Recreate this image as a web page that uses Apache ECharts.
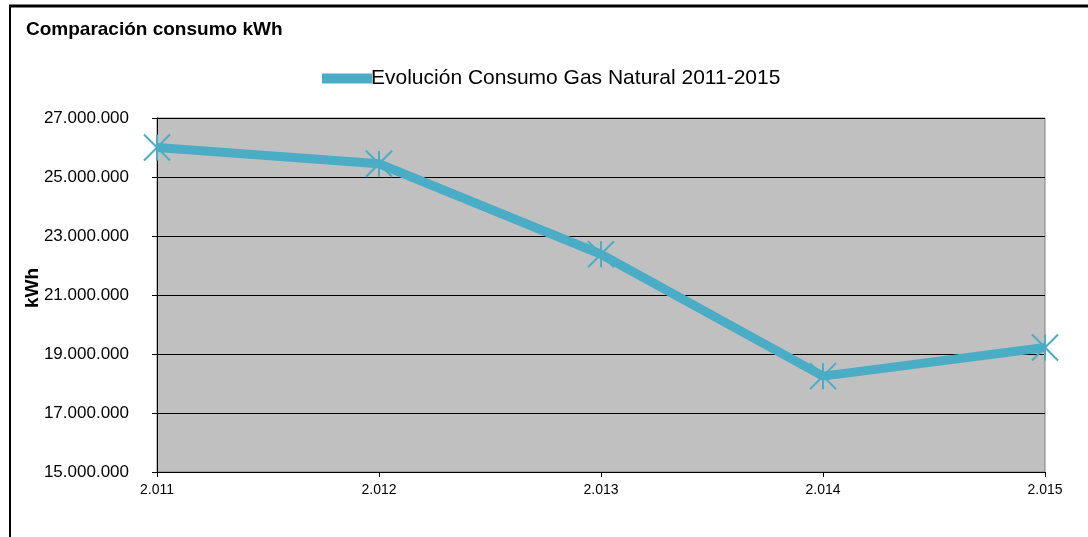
<!DOCTYPE html>
<html>
<head>
<meta charset="utf-8">
<script src="https://cdn.jsdelivr.net/npm/echarts@6/dist/echarts.min.js"></script>
<style>
  html, body { margin: 0; padding: 0; background: #fff; }
  #chart { width: 1088px; height: 537px; }
</style>
</head>
<body>
<div id="chart"></div>
<script>
// años (etiquetas del eje x)
var years = ['2.011', '2.012', '2.013', '2.014', '2.015'];
// consumo de gas natural en kWh
var consumo = [26000000, 25450000, 22380000, 18250000, 19220000];
var serieName = 'Evolución Consumo Gas Natural 2011-2015';
var yName = 'kWh';

var myChart = echarts.init(document.getElementById('chart'));

function fmtMiles(v) {
	return String(v).replace(/\B(?=(\d{3})+(?!\d))/g, '.');
}

var option = {
	animation: false,
	textStyle: { fontFamily: 'Liberation Sans, Arial, sans-serif' },
	title: {
		text: 'Comparación consumo kWh',
		left: 21,
		top: 15,
		textStyle: { fontSize: 19, fontWeight: 'bold', color: '#000' }
	},
	legend: {
		top: 63,
		left: 317,
		itemWidth: 48,
		itemHeight: 14,
		itemGap: 0,
		textStyle: { fontSize: 21, color: '#000', padding: [0, 0, 0, -5] },
		data: [{ name: serieName, icon: 'path://M0,3 L48,3 L48,11 L0,11 Z' }]
	},
	grid: {
		left: 157,
		top: 118,
		right: 43,
		bottom: 65,
		show: true,
		backgroundColor: '#c0c0c0',
		borderColor: '#808080',
		borderWidth: 1
	},
	xAxis: {
		type: 'category',
		data: years,
		boundaryGap: false,
		axisLine: { show: true, lineStyle: { color: '#000', width: 1 } },
		axisTick: { show: true, inside: false, length: 5, lineStyle: { color: '#000' } },
		axisLabel: { color: '#000', fontSize: 14, margin: 11 },
		splitLine: { show: false }
	},
	yAxis: {
		type: 'value',
		min: 15000000,
		max: 27000000,
		interval: 2000000,
		axisLine: { show: true, lineStyle: { color: '#000', width: 1 } },
		axisTick: { show: true, length: 5, lineStyle: { color: '#000' } },
		axisLabel: { color: '#000', fontSize: 17, margin: 28, formatter: fmtMiles },
		splitLine: { show: true, lineStyle: { color: '#000', width: 1 } }
	},
	series: [{
		name: serieName,
		type: 'line',
		data: consumo,
		symbol: 'path://M0,0 L10,10 M10,0 L0,10 M5,0 L5,10',
		symbolSize: 26,
		itemStyle: { color: '#4bacc6', borderColor: '#4bacc6', borderWidth: 2 },
		lineStyle: { color: '#4bacc6', width: 9 },
		emphasis: { disabled: true }
	}],
	graphic: [
		{ type: 'line', shape: { x1: 9, y1: 6, x2: 1088, y2: 6 }, style: { stroke: '#000', lineWidth: 3 } },
		{ type: 'line', shape: { x1: 10, y1: 6, x2: 10, y2: 537 }, style: { stroke: '#000', lineWidth: 2 } },
		// título del eje y
		{
			type: 'text',
			x: 33,
			y: 288,
			rotation: Math.PI / 2,
			style: {
				text: yName,
				font: 'bold 19px Liberation Sans, Arial, sans-serif',
				fill: '#000',
				align: 'center',
				verticalAlign: 'middle'
			}
		}
	]
};

myChart.setOption(option);
</script>
</body>
</html>
